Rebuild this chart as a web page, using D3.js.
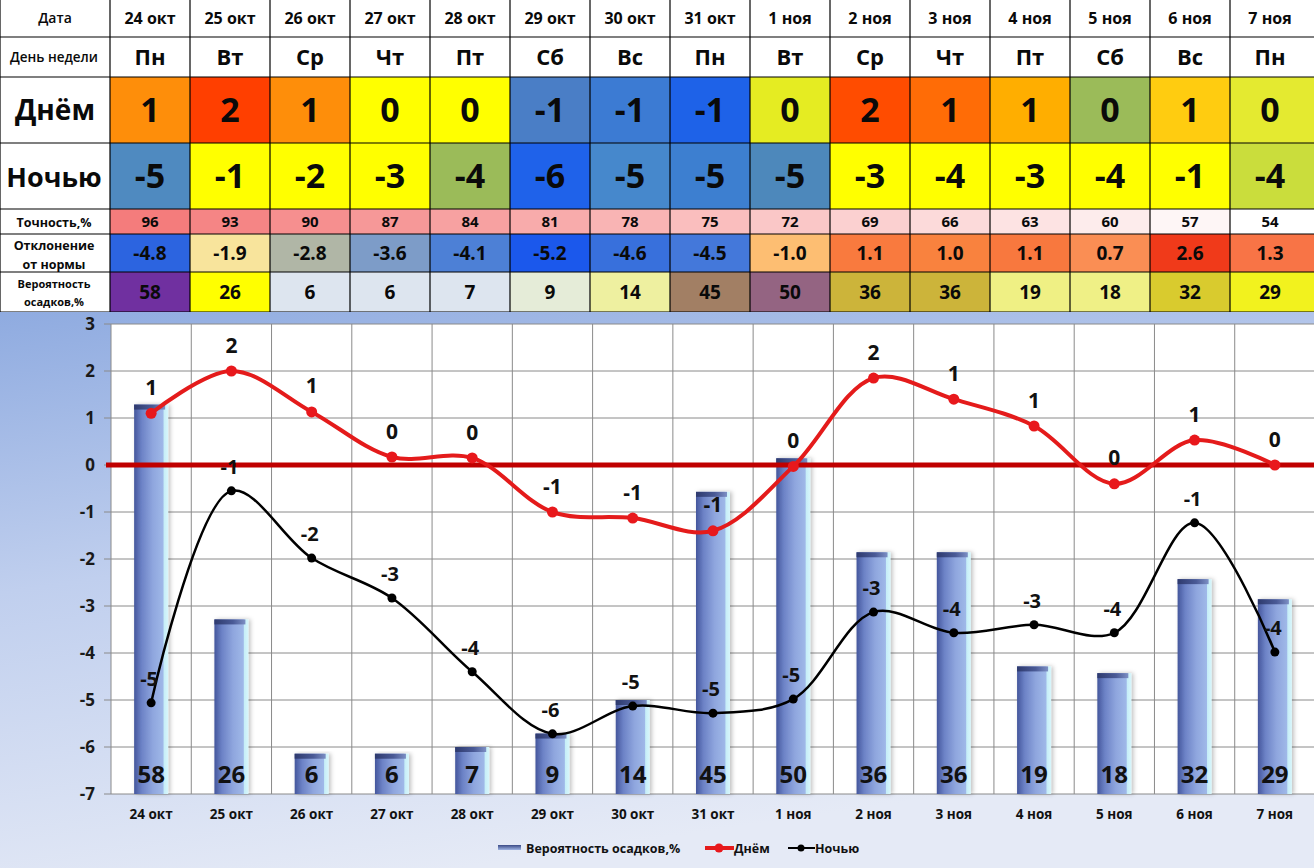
<!DOCTYPE html>
<html><head><meta charset="utf-8">
<script src="https://cdn.jsdelivr.net/npm/d3@7"></script>
<style>
html,body{margin:0;padding:0;background:#fff;}
svg{display:block;font-family:"Open Sans","DejaVu Sans",sans-serif;}
</style></head>
<body>
<svg id="c" width="1314" height="868"></svg>
<script>
// ---------- DATA ----------
const dates = ["24 окт","25 окт","26 окт","27 окт","28 окт","29 окт","30 окт","31 окт","1 ноя","2 ноя","3 ноя","4 ноя","5 ноя","6 ноя","7 ноя"];
const weekdays = ["Пн","Вт","Ср","Чт","Пт","Сб","Вс","Пн","Вт","Ср","Чт","Пт","Сб","Вс","Пн"];
const dayTemps = [1,2,1,0,0,-1,-1,-1,0,2,1,1,0,1,0];
const nightTemps = [-5,-1,-2,-3,-4,-6,-5,-5,-5,-3,-4,-3,-4,-1,-4];
const dayLine = [1.1,2.0,1.13,0.17,0.15,-1.0,-1.13,-1.4,-0.03,1.85,1.4,0.83,-0.4,0.53,0.0];
const nightLine = [-5.06,-0.55,-1.98,-2.83,-4.4,-5.72,-5.13,-5.28,-4.98,-3.13,-3.57,-3.4,-3.57,-1.23,-3.98];
const accuracy = [96,93,90,87,84,81,78,75,72,69,66,63,60,57,54];
const deviation = [-4.8,-1.9,-2.8,-3.6,-4.1,-5.2,-4.6,-4.5,-1.0,1.1,1.0,1.1,0.7,2.6,1.3];
const precip = [58,26,6,6,7,9,14,45,50,36,36,19,18,32,29];
const yTicks = [3,2,1,0,-1,-2,-3,-4,-5,-6,-7];

// ---------- CELL COLOURS ----------
const dayColors = ["#fe8e0a","#ff3f00","#fe8e0a","#ffff00","#ffff00","#4a7ec6","#3c7bd3","#1e62e8","#e5ec22","#ff4c00","#ff6c06","#ffae00","#9bbb59","#ffcc10","#e4ea30"];
const nightColors = ["#4f8ac0","#ffff00","#ffff00","#ffff00","#9bbb59","#1f62ea","#4688cc","#3d7fd0","#4d88bb","#ffff00","#ffff00","#ffff00","#ffff00","#ffff00","#cadd3c"];
const devColors = ["#2c64e0","#f8e49c","#b0b6a6","#7d9cc8","#4d80d6","#1b58ec","#3870dc","#4478da","#fdbe72","#f97a3e","#f9823e","#f8783e","#fa8e54","#f03a1a","#f87446"];
const precipColors = ["#7030a0","#ffff00","#dde5ef","#dde5ef","#dde5ef","#e5ecd8","#eef0a0","#a27f64","#946482","#ccb43a","#ccb43a","#eff084","#eff086","#d9cb2e","#f2f21e"];
const accColor = d3.scaleLinear().domain([54,96]).range(["#ffffff","#f47c7c"]);

const svg = d3.select("#c");
const defs = svg.append("defs");

// ---------- TABLE ----------
const colX = d3.scaleBand().domain(dates).range([110,1310]);
const lastIdx = dates.length-1;
const cellW = i => i===lastIdx ? 1314-colX(dates[i]) : colX.bandwidth();
const rows = [
  {key:"date", y0:0, y1:37},
  {key:"wd", y0:37, y1:77},
  {key:"day", y0:77, y1:143},
  {key:"night", y0:143, y1:209},
  {key:"acc", y0:209, y1:234},
  {key:"dev", y0:234, y1:272},
  {key:"pr", y0:272, y1:312}
];
const table = svg.append("g");
table.append("rect").attr("x",0).attr("y",0).attr("width",1314).attr("height",312).attr("fill","#fff");

function cellRow(r, vals, colors, fs, fmt){
  const g = table.append("g");
  g.selectAll("rect").data(vals).join("rect")
    .attr("x",(d,i)=>colX(dates[i])).attr("y",r.y0)
    .attr("width",(d,i)=>cellW(i)).attr("height",r.y1-r.y0)
    .attr("fill",(d,i)=>colors ? colors(d,i) : "#fff");
  g.selectAll("text").data(vals).join("text")
    .attr("x",(d,i)=>colX(dates[i])+colX.bandwidth()/2)
    .attr("y",(r.y0+r.y1)/2).attr("dy","0.36em")
    .attr("text-anchor","middle").attr("font-size",fs).attr("font-weight","bold")
    .attr("fill","#0a0a0a")
    .text(d=>fmt?fmt(d):d);
}
cellRow(rows[0], dates, null, 16);
cellRow(rows[1], weekdays, null, 22);
cellRow(rows[2], dayTemps, (d,i)=>dayColors[i], 34);
cellRow(rows[3], nightTemps, (d,i)=>nightColors[i], 34);
cellRow(rows[4], accuracy, d=>accColor(d), 15);
cellRow(rows[5], deviation, (d,i)=>devColors[i], 19, d=>d.toFixed(1));
cellRow(rows[6], precip, (d,i)=>precipColors[i], 19);

// row labels
const lab = table.append("g").attr("text-anchor","middle").attr("fill","#0a0a0a").attr("font-weight","bold");
lab.append("text").attr("x",55).attr("y",18).attr("dy","0.36em").attr("font-size",14).attr("font-weight","600").text("Дата");
lab.append("text").attr("x",54).attr("y",57).attr("dy","0.36em").attr("font-size",13.5).attr("font-weight","600").text("День недели");
lab.append("text").attr("x",55).attr("y",110).attr("dy","0.36em").attr("font-size",28).text("Днём");
lab.append("text").attr("x",54).attr("y",177).attr("dy","0.36em").attr("font-size",27).text("Ночью");
lab.append("text").attr("x",54).attr("y",222).attr("dy","0.36em").attr("font-size",12.5).text("Точность,%");
lab.append("text").attr("x",54).attr("y",245).attr("dy","0.36em").attr("font-size",12.5).text("Отклонение");
lab.append("text").attr("x",54).attr("y",264).attr("dy","0.36em").attr("font-size",12.5).text("от нормы");
lab.append("text").attr("x",54).attr("y",284).attr("dy","0.36em").attr("font-size",11).text("Вероятность");
lab.append("text").attr("x",54).attr("y",302).attr("dy","0.36em").attr("font-size",11).text("осадков,%");

// grid lines of table
const tl = table.append("g").attr("stroke","#000").attr("stroke-width",1.2);
[0,110,...dates.slice(0,lastIdx).map(d=>colX(d)+colX.bandwidth())].forEach(x=>{
  tl.append("line").attr("x1",x).attr("x2",x).attr("y1",0).attr("y2",312);
});
rows.forEach(r=>{ tl.append("line").attr("x1",0).attr("x2",1314).attr("y1",r.y1).attr("y2",r.y1); });

// ---------- CHART ----------
const bg = defs.append("linearGradient").attr("id","bg").attr("x1",0).attr("y1",0).attr("x2",0.35).attr("y2",1);
bg.append("stop").attr("offset","0%").attr("stop-color","#8fabe0");
bg.append("stop").attr("offset","45%").attr("stop-color","#c0cfee");
bg.append("stop").attr("offset","100%").attr("stop-color","#e5eaf6");
svg.append("rect").attr("x",0).attr("y",312).attr("width",1314).attr("height",556).attr("fill","url(#bg)");

const x = d3.scaleBand().domain(dates).range([111,1315]);
const y = d3.scaleLinear().domain([-7,3]).range([794,324]);
const y2 = d3.scaleLinear().domain([0,70]).range([794,324]);
const cx = d => x(d)+x.bandwidth()/2;

svg.append("rect").attr("x",111).attr("y",324).attr("width",1204).attr("height",470).attr("fill","#fff");

// gridlines
const grid = svg.append("g").attr("stroke","#8a8a8a").attr("stroke-width",1);
yTicks.forEach(t=>{
  grid.append("line").attr("x1",104).attr("x2",1315).attr("y1",y(t)).attr("y2",y(t));
});
dates.forEach(d=>{
  grid.append("line").attr("x1",x(d)).attr("x2",x(d)).attr("y1",324).attr("y2",794);
});

// y axis labels
svg.append("g").selectAll("text").data(yTicks).join("text")
  .attr("x",95).attr("y",d=>y(d)).attr("dy","0.36em").attr("text-anchor","end")
  .attr("font-size",17).attr("font-weight","bold").attr("fill","#1a1a1a").text(d=>d);

// bars
const bw = 34;
const bgBar = defs.append("linearGradient").attr("id","bar").attr("x1",0).attr("x2",1).attr("y1",0).attr("y2",0);
[["0%","#44569c"],["22%","#6c82c6"],["55%","#8fa6de"],["85%","#9fb8e8"],["88%","#c6eef8"],["100%","#d8f6fb"]]
  .forEach(s=>bgBar.append("stop").attr("offset",s[0]).attr("stop-color",s[1]));
const capG = defs.append("linearGradient").attr("id","cap").attr("x1",0).attr("x2",1).attr("y1",0).attr("y2",0);
[["0%","#2e3a6e"],["60%","#4a5a96"],["100%","#7d8fc4"]].forEach(s=>capG.append("stop").attr("offset",s[0]).attr("stop-color",s[1]));
const shadow = defs.append("filter").attr("id","sh").attr("x","-30%").attr("y","-5%").attr("width","160%").attr("height","110%");
shadow.append("feDropShadow").attr("dx",2).attr("dy",0).attr("stdDeviation",2).attr("flood-color","#000").attr("flood-opacity",0.25);

const bars = svg.append("g");
bars.selectAll("rect.b").data(precip).join("rect").attr("class","b")
  .attr("x",(d,i)=>cx(dates[i])-bw/2).attr("y",d=>y2(d))
  .attr("width",bw).attr("height",d=>794-y2(d)).attr("fill","url(#bar)").attr("filter","url(#sh)");
bars.selectAll("rect.c").data(precip).join("rect").attr("class","c")
  .attr("x",(d,i)=>cx(dates[i])-bw/2).attr("y",d=>y2(d))
  .attr("width",bw-3).attr("height",5).attr("fill","url(#cap)");
bars.selectAll("text").data(precip).join("text")
  .attr("x",(d,i)=>cx(dates[i])).attr("y",774).attr("dy","0.36em").attr("text-anchor","middle")
  .attr("font-size",24).attr("font-weight","bold").attr("fill","#111").text(d=>d);

// zero line
svg.append("line").attr("x1",106).attr("x2",1315).attr("y1",y(0)).attr("y2",y(0))
  .attr("stroke","#c00000").attr("stroke-width",5);

// lines
const line = d3.line().x((d,i)=>cx(dates[i])).y(d=>y(d)).curve(d3.curveCatmullRom.alpha(0.5));
svg.append("path").datum(dayLine).attr("d",line).attr("fill","none").attr("stroke","#e41b1b").attr("stroke-width",4);
svg.append("g").selectAll("circle").data(dayLine).join("circle")
  .attr("cx",(d,i)=>cx(dates[i])).attr("cy",d=>y(d)).attr("r",5.5).attr("fill","#e8181c");
svg.append("path").datum(nightLine).attr("d",line).attr("fill","none").attr("stroke","#000").attr("stroke-width",2.5);
svg.append("g").selectAll("circle").data(nightLine).join("circle")
  .attr("cx",(d,i)=>cx(dates[i])).attr("cy",d=>y(d)).attr("r",4.5).attr("fill","#000");

// labels
svg.append("g").selectAll("text").data(dayLine).join("text")
  .attr("x",(d,i)=>cx(dates[i])).attr("y",d=>y(d)-26).attr("dy","0.36em").attr("text-anchor","middle")
  .attr("font-size",21).attr("font-weight","bold").attr("fill","#111").text((d,i)=>dayTemps[i]);
svg.append("g").selectAll("text").data(nightLine).join("text")
  .attr("x",(d,i)=>cx(dates[i])-2).attr("y",d=>y(d)-24).attr("dy","0.36em").attr("text-anchor","middle")
  .attr("font-size",20).attr("font-weight","bold").attr("fill","#111").text((d,i)=>nightTemps[i]);

// x axis labels
svg.append("g").selectAll("text").data(dates).join("text")
  .attr("x",d=>cx(d)).attr("y",814).attr("dy","0.36em").attr("text-anchor","middle")
  .attr("font-size",13.5).attr("font-weight","bold").attr("fill","#111").text(d=>d);

// legend
const lg = svg.append("g").attr("font-size",12.5).attr("font-weight","bold").attr("fill","#111");
const lgBar = defs.append("linearGradient").attr("id","lgb").attr("x1",0).attr("x2",0).attr("y1",0).attr("y2",1);
lgBar.append("stop").attr("offset","0%").attr("stop-color","#3a4a86");
lgBar.append("stop").attr("offset","100%").attr("stop-color","#9fb4e4");
lg.append("rect").attr("x",498).attr("y",845).attr("width",23).attr("height",5).attr("fill","url(#lgb)");
lg.append("text").attr("x",526).attr("y",848).attr("dy","0.36em").text("Вероятность осадков,%");
lg.append("line").attr("x1",705).attr("x2",734).attr("y1",848).attr("y2",848).attr("stroke","#e41b1b").attr("stroke-width",4);
lg.append("circle").attr("cx",719).attr("cy",848).attr("r",4.5).attr("fill","#e8181c");
lg.append("text").attr("x",734).attr("y",848).attr("dy","0.36em").text("Днём");
lg.append("line").attr("x1",788).attr("x2",815).attr("y1",848).attr("y2",848).attr("stroke","#000").attr("stroke-width",2);
lg.append("circle").attr("cx",801).attr("cy",848).attr("r",3.5).attr("fill","#000");
lg.append("text").attr("x",815).attr("y",848).attr("dy","0.36em").text("Ночью");
</script>
</body></html>
